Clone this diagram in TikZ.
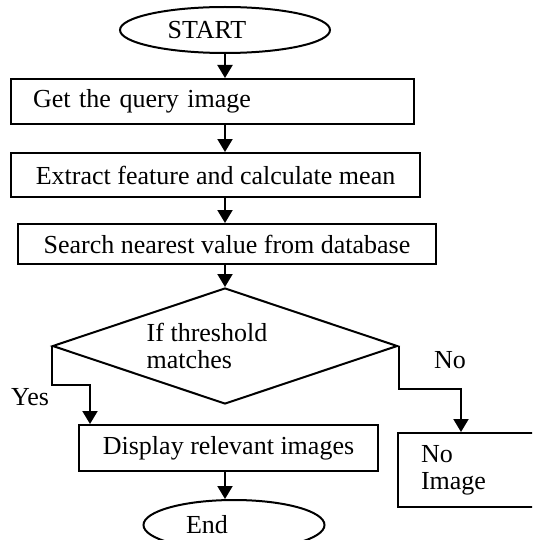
\documentclass[tikz,border=0pt]{standalone}
\usepackage{fontspec}
\setmainfont{Liberation Serif}
\usetikzlibrary{shapes.geometric,arrows.meta,positioning}
\begin{document}
\begin{tikzpicture}[x=0.5pt,y=-0.5pt,line width=1pt,
    font=\fontsize{13}{13.5}\selectfont,
    arrow/.style={-{Triangle[width=7.5pt,length=6.5pt]}},
    term/.style={draw,ellipse,inner sep=0pt},
    proc/.style={draw,rectangle,inner sep=0pt},
    decide/.style={draw,diamond,aspect=3,inner sep=0pt,align=left}]
        \clip (0,0) rectangle (532,540);
        % box
        \node [term,minimum width=105pt,minimum height=23pt] (start) at (225,30) {START\kern18pt};
        \node [proc,minimum width=201.5pt,minimum height=22.5pt,inner xsep=11pt,text width=179.5pt,align=left] (query) at (212.5,101.5) {Get the query image};
        \node [proc,minimum width=204.5pt,minimum height=22pt] (feature) at (215.5,175) {Extract feature and calculate mean};
        \node [proc,minimum width=209pt,minimum height=20pt] (search) at (227,244) {Search nearest value from database};
        \node [decide,minimum width=172.5pt,minimum height=58pt] (match) at (225,346) {If threshold\kern18pt\\matches};
        \node [proc,minimum width=149.5pt,minimum height=23pt] (display) at (228.5,448) {Display relevant images};
        \node [proc,minimum width=80pt,minimum height=37pt,inner xsep=11.5pt,text width=57pt,align=left] (noimg) at (478,470) {No\\Image};
        \node [term,minimum width=90.5pt,minimum height=25pt] (end) at (234,525) {End\kern27pt};
        % lecter
        \node (yes) at (30,397) {Yes};\node (no) at (450,360) {No};
        % line
        \draw [arrow] (start.south) -- (query.north -| start);\draw [arrow] (query.south -| start) -- (feature.north -| start);
        \draw [arrow] (feature.south -| start) -- (search.north -| start);\draw [arrow] (search.south -| match) -- (match.north);
        \draw [arrow] (match.west) -- ++(0,39) -| ([xshift=6pt]display.north west);
        \draw [arrow] (match.east) -- ++(0,43) -| ([xshift=32pt]noimg.north west);
        \draw [arrow] (display.south -| start) -- (end.north -| start);
\end{tikzpicture}
\end{document}
